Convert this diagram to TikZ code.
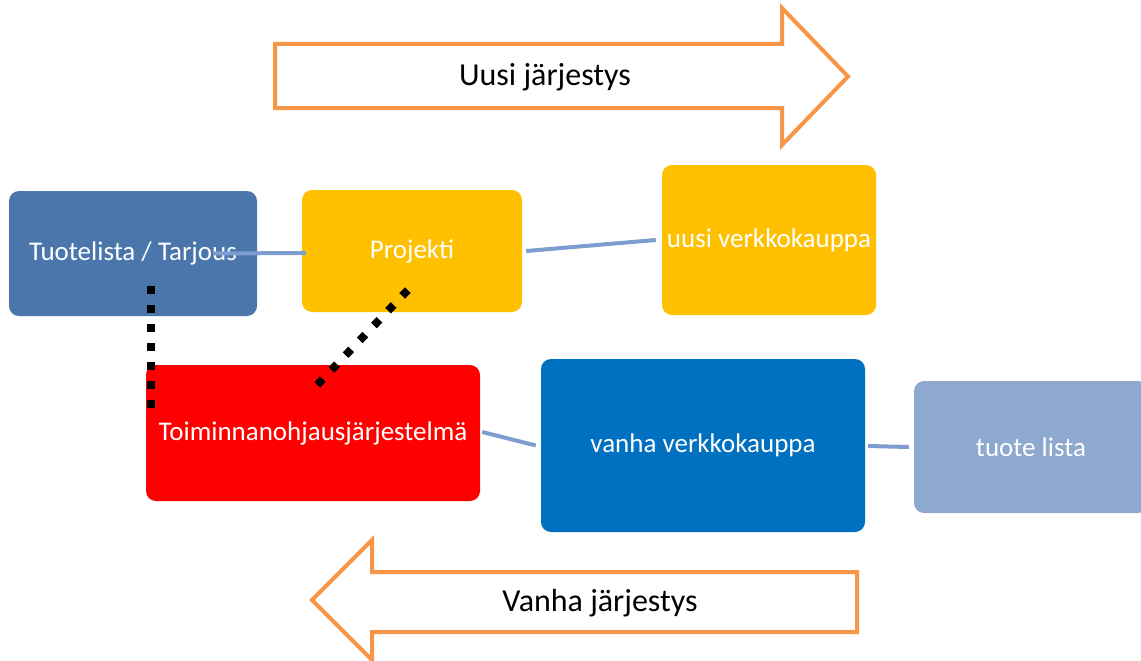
\documentclass[tikz,border=0pt]{standalone}
\usepackage{fontspec}
\setmainfont{Carlito}
\usetikzlibrary{decorations.markings}
\definecolor{tlblue}{RGB}{74,118,172}
\definecolor{gold}{RGB}{255,192,0}
\definecolor{oldblue}{RGB}{0,112,192}
\definecolor{paleblue}{RGB}{142,169,207}
\definecolor{conncol}{RGB}{125,157,207}
\definecolor{arrorange}{RGB}{247,150,70}
\begin{document}
\begin{tikzpicture}[x=1pt,y=-1pt,
  box/.style={rounded corners=10pt, inner sep=0pt, text=white,
    font=\fontsize{27}{31}\selectfont, align=center},
  conn/.style={draw=conncol, line width=4pt},
  sqdots/.style={decorate, decoration={markings,
      mark=between positions 0 and 1 step #1 with {\fill[black] (-4pt,-4pt) rectangle (4pt,4pt);}}},
  bigarrow/.style={draw=arrorange, line width=4pt, fill=white, line join=miter},
  arrtext/.style={font=\fontsize{32}{36}\selectfont, text=black}]
\useasboundingbox (0,0) rectangle (1141,661);
% boxes
\node[box, fill=tlblue, minimum width=248pt, minimum height=125pt] (tl) at (133,253.5) {Tuotelista / Tarjous};
\node[box, fill=gold, minimum width=220pt, minimum height=122pt] (pr) at (412,251) {Projekti};
\node[box, fill=gold, minimum width=214pt, minimum height=150pt] (uv) at (769,240) {uusi verkkokauppa};
\node[box, fill=red, minimum width=334pt, minimum height=136pt] (toim) at (313,433) {Toiminnanohjausjärjestelmä};
\node[box, fill=oldblue, minimum width=324pt, minimum height=173pt] (vv) at (703,445.5) {vanha verkkokauppa};
\node[box, fill=paleblue, minimum width=234pt, minimum height=132pt] (tlista) at (1031,447) {tuote lista};
% connectors
\draw[conn] ([xshift=-44pt,yshift=0pt]tl.east) -- ([xshift=4pt,yshift=-2pt]pr.west);
\draw[conn] ([xshift=4pt]pr.east) -- ([xshift=-6pt]uv.west);
\draw[conn] ([xshift=2pt,yshift=1pt]toim.east) -- ([xshift=-5pt,yshift=0pt]vv.west);
\draw[conn] ([xshift=3pt,yshift=-0.5pt]vv.east) -- ([xshift=-5pt,yshift=0pt]tlista.west);
% dotted links
\coordinate (d1a) at (151,290);
\coordinate (d1b) at (151,404.5);
\path[sqdots=19pt] (d1a) -- (d1b);
\coordinate (d2a) at (405,293);
\coordinate (d2b) at (320,382);
\path[sqdots=20.5pt] (d2a) -- (d2b);
% big arrows
\draw[bigarrow] (275,44) -- (782,44) -- (782,8) -- (848,76.5) -- (782,145) -- (782,108) -- (275,108) -- cycle;
\node[arrtext] (uusi) at (545,77) {Uusi järjestys};
\draw[bigarrow] (857,572) -- (372,572) -- (372,540) -- (312,600) -- (372,660) -- (372,632) -- (857,632) -- cycle;
\node[arrtext] (vanha) at (600,603) {Vanha järjestys};
\end{tikzpicture}
\end{document}
